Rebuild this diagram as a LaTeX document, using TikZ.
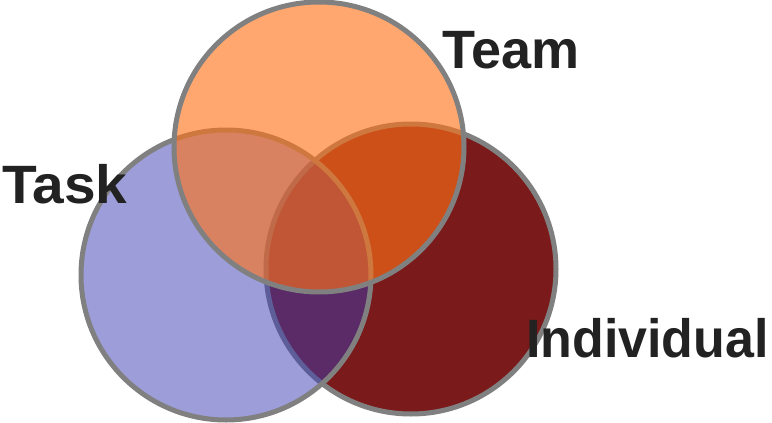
\documentclass[tikz,border=0pt]{standalone}
\usepackage{fontspec}
\setmainfont{Liberation Sans}
\definecolor{teamc}{RGB}{255,114,24}
\definecolor{taskc}{RGB}{60,60,180}
\definecolor{indc}{RGB}{122,26,26}
\definecolor{rimc}{RGB}{128,128,128}
\definecolor{txtc}{RGB}{34,34,34}
\tikzset{
  venn/.style={draw=rimc, line width=5pt},
  lbl/.style={inner sep=0pt, anchor=base west, text=txtc, font=\fontsize{54}{60}\selectfont\bfseries}
}
\begin{document}
\begin{tikzpicture}[x=1pt,y=-1pt]
\useasboundingbox (0,0) rectangle (772,423);
\fill[white] (0,0) rectangle (772,423);
\path[venn, fill=indc] (411,269) circle[radius=145];
\path[venn, fill=taskc, fill opacity=0.5] (226,275) circle[radius=145];
\path[venn, fill=teamc, fill opacity=0.62] (319,147) circle[radius=145];
\node[lbl] (team) at (442,68) {Team};
\node[lbl] (task) at (2,203) {\scalebox{1.053}[1]{Task}};
\node[lbl] (indiv) at (526,357) {\scalebox{0.962}[1]{Individual}};
\end{tikzpicture}
\end{document}
